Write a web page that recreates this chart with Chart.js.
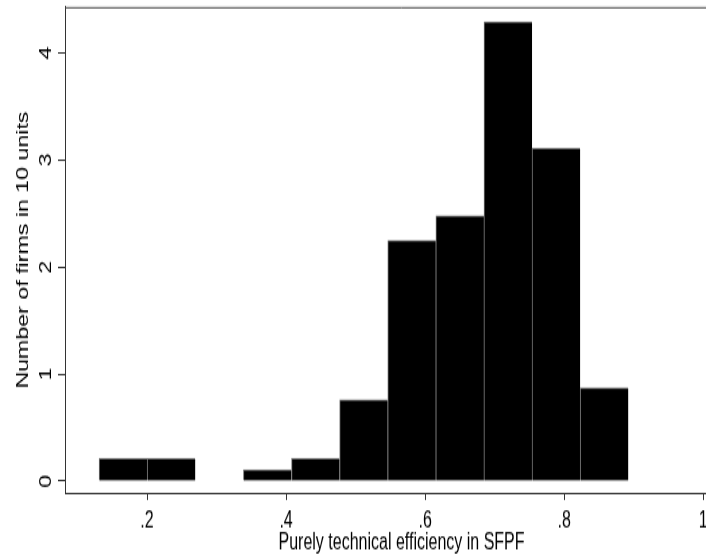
<!DOCTYPE html>
<html lang="en">
<head>
<meta charset="UTF-8">
<title>Purely technical efficiency in SFPF</title>
<script src="https://cdn.jsdelivr.net/npm/chart.js"></script>
<style>
    html, body { margin: 0; padding: 0; background: #fff; overflow: hidden; }
    #wrap { width: 706px; height: 558px; overflow: hidden; }
    /* the original graph was exported stretched in height, so the canvas is stretched the same way */
    #stretch { transform: scaleY(1.4494); transform-origin: 0 0; }
    canvas { display: block; }
</style>
</head>
<body>
<div id="wrap"><div id="stretch"><canvas id="histChart" width="760" height="385"></canvas></div></div>
<script>
    // bin centres on the efficiency axis (bins are about .069 wide)
    const binCenters = [0.1656, 0.2348, 0.3040, 0.3732, 0.4424, 0.5116, 0.5808, 0.6500, 0.7192, 0.7884, 0.8576];
    // histogram height (density) of each bin
    const density = [0.21, 0.21, 0, 0.105, 0.21, 0.76, 2.25, 2.48, 4.29, 3.11, 0.87];
    const xTicks = [0.2, 0.4, 0.6, 0.8, 1];
    const xTickLabels = ['.2', '.4', '.6', '.8', '1'];
    const yTicks = [0, 1, 2, 3, 4];

    const font = { family: '"Liberation Sans", Arial, sans-serif', size: 16 };

    // top edge of the plot box (Stata draws a frame round the plot region)
    const frame = {
        id: 'frame',
        afterDraw(chart) {
            const { ctx, chartArea: a } = chart;
            ctx.save();
            ctx.strokeStyle = '#444';
            ctx.lineWidth = 1;
            ctx.beginPath();
            ctx.moveTo(a.left, a.top + 0.5);
            ctx.lineTo(a.right + 0.5, a.top + 0.5);
            ctx.lineTo(a.right + 0.5, a.bottom);
            ctx.stroke();
            ctx.restore();
        }
    };

    const config = {
        type: 'bar',
        data: {
            datasets: [{
                data: binCenters.map((x, i) => ({ x: x, y: density[i] })),
                backgroundColor: '#000',
                borderColor: '#7a7a7a',
                borderWidth: { left: 1, top: 1, right: 0, bottom: 0 },
                barPercentage: 1,
                categoryPercentage: 1
            }]
        },
        options: {
            responsive: false,
            animation: false,
            devicePixelRatio: 1,
            layout: { padding: { top: 4.8, right: 22, bottom: 0, left: 0 } },
            plugins: { legend: { display: false }, tooltip: { enabled: false } },
            scales: {
                x: {
                    type: 'linear',
                    min: 0.082,
                    max: 1.05,
                    offset: false,
                    afterBuildTicks: s => { s.ticks = xTicks.map(v => ({ value: v })); },
                    afterFit: s => { s.height = 44.8; },
                    ticks: {
                        callback: (v, i) => xTickLabels[i],
                        font: font, color: '#000', padding: 5.3,
                        maxRotation: 0, autoSkip: false
                    },
                    grid: { offset: false, drawOnChartArea: false, tickLength: 4.8, color: '#333' },
                    border: { color: '#333', width: 1 },
                    title: {
                        display: true, text: 'Purely technical efficiency in SFPF',
                        font: font, color: '#000', padding: { top: 0, bottom: 0.6 }
                    }
                },
                y: {
                    min: -0.112,
                    max: 4.43,
                    afterBuildTicks: s => { s.ticks = yTicks.map(v => ({ value: v })); },
                    afterFit: s => { s.width = 65; s.paddingTop = 0; s.paddingBottom = 0; },
                    ticks: {
                        font: font, color: '#000', padding: 7,
                        minRotation: 90, maxRotation: 90, crossAlign: 'center'
                    },
                    grid: { drawOnChartArea: false, tickLength: 7, color: '#333' },
                    border: { color: '#333', width: 1 },
                    title: {
                        display: true, text: 'Number of firms in 10 units',
                        font: font, color: '#000', padding: { top: 14, bottom: 0 }
                    }
                }
            }
        },
        plugins: [frame]
    };

    window.onload = function () {
        const ctx = document.getElementById('histChart').getContext('2d');
        window.histChart = new Chart(ctx, config);
    };
</script>
</body>
</html>
